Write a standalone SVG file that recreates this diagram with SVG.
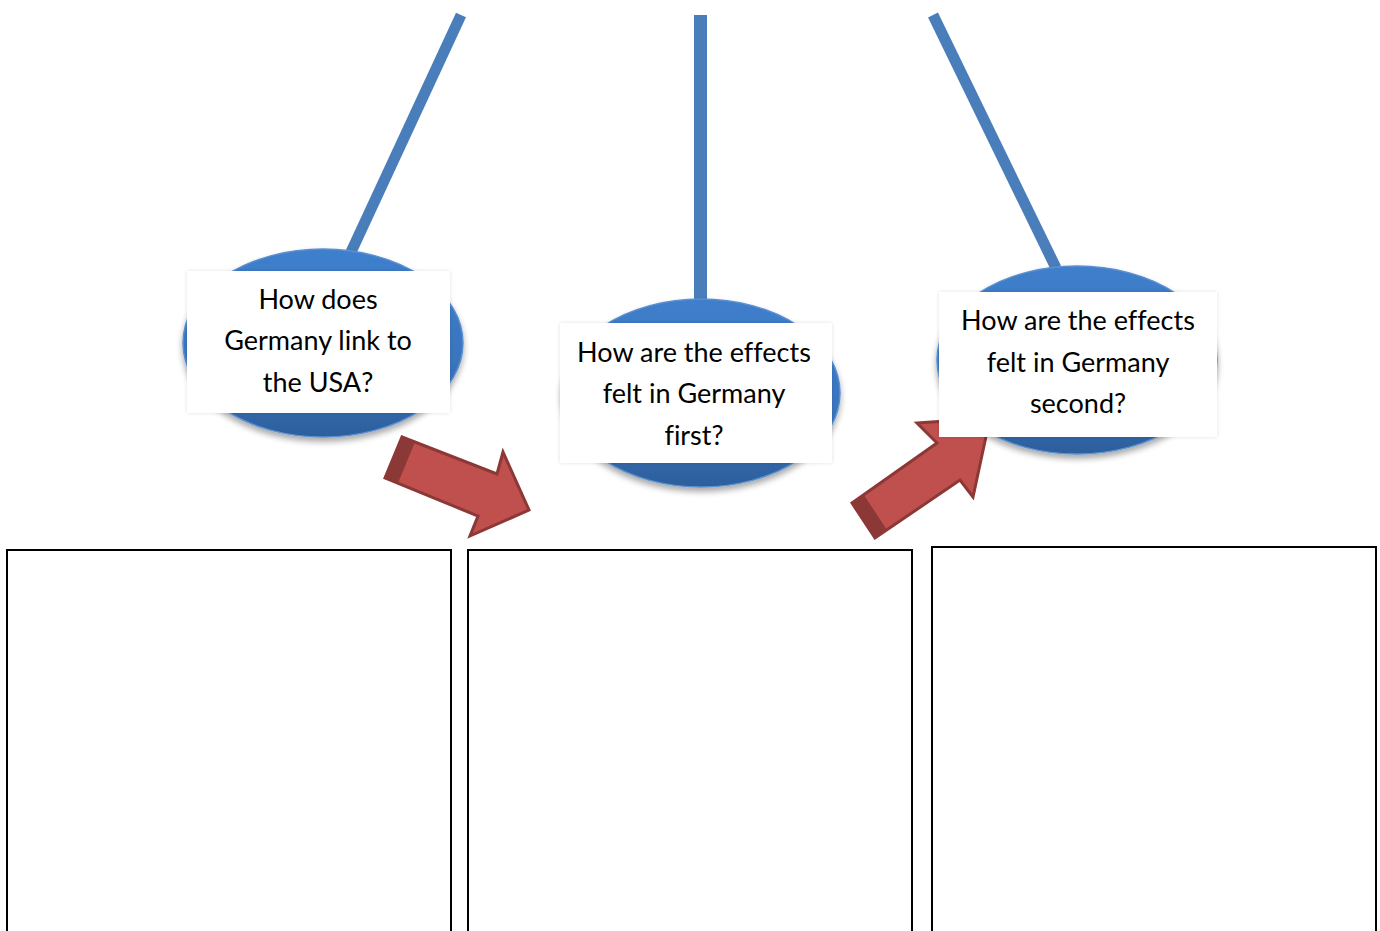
<svg xmlns="http://www.w3.org/2000/svg" width="1380" height="931" viewBox="0 0 1380 931">
<defs>
<linearGradient id="blueGrad" x1="0" y1="0" x2="0" y2="1">
<stop offset="0" stop-color="#3f7fcc"/>
<stop offset="0.6" stop-color="#3a74bd"/>
<stop offset="1" stop-color="#2d5f9c"/>
</linearGradient>
<filter id="ellShadow" x="-20%" y="-20%" width="140%" height="150%">
<feGaussianBlur in="SourceAlpha" stdDeviation="3"/>
<feOffset dx="0" dy="4" result="b"/>
<feComponentTransfer><feFuncA type="linear" slope="0.35"/></feComponentTransfer>
<feMerge><feMergeNode/><feMergeNode in="SourceGraphic"/></feMerge>
</filter>
<filter id="boxShadow" x="-10%" y="-10%" width="120%" height="120%">
<feGaussianBlur in="SourceAlpha" stdDeviation="2"/>
<feComponentTransfer><feFuncA type="linear" slope="0.12"/></feComponentTransfer>
<feMerge><feMergeNode/><feMergeNode in="SourceGraphic"/></feMerge>
</filter>
</defs>
<style>
.stick{stroke:#4a7ebb;stroke-width:11;fill:none}
.ell{fill:url(#blueGrad);stroke:#5a8fd0;stroke-width:1.5;filter:url(#ellShadow)}
.lbl{fill:#ffffff;filter:url(#boxShadow)}
.txt{font-family:Lato,"Open Sans","Liberation Sans",sans-serif;font-size:27px;fill:#000000;text-anchor:middle;font-variant-ligatures:none}
.arrow{fill:#c0504d;stroke:#8c3836;stroke-width:3;stroke-linejoin:miter}
.tail{fill:#8c3836}
.frame{fill:#ffffff;stroke:#000000;stroke-width:2}
</style>
<rect width="1380" height="931" fill="#ffffff"/>

<g id="connectors">
<line class="stick" x1="461" y1="15" x2="345" y2="265"/>
<line class="stick" x1="700.5" y1="15" x2="700.5" y2="300" style="stroke-width:13"/>
<line class="stick" x1="933" y1="15" x2="1056" y2="268"/>
</g>

<g id="node-1">
<ellipse class="ell" cx="323" cy="343" rx="140" ry="94"/>
<rect class="lbl" x="187" y="271" width="263" height="142"/>
<text class="txt" x="318" y="309">How does</text>
<text class="txt" x="318" y="350">Germany link to</text>
<text class="txt" x="318" y="392">the USA?</text>
</g>

<g id="node-2">
<ellipse class="ell" cx="701" cy="393" rx="139" ry="94"/>
<rect class="lbl" x="560" y="323" width="272" height="140"/>
<text class="txt" x="694" y="362">How are the effects</text>
<text class="txt" x="694" y="403">felt in Germany</text>
<text class="txt" x="694" y="445">first?</text>
</g>

<g id="arrows">
<polygon class="arrow" points="402,437 497,474 503,452 529,510 470,536 478,516 385,478"/>
<polygon class="tail" points="402,437 415,442 398,483 385,478"/>
<polygon class="arrow" points="852,503 937,443 917,423 990,418 973,497 960,480 875,538"/>
<polygon class="tail" points="852,503 864,495 887,530 875,538"/>
</g>

<g id="node-3">
<ellipse class="ell" cx="1077" cy="360" rx="140" ry="94"/>
<rect class="lbl" x="939" y="292" width="278" height="145"/>
<text class="txt" x="1078" y="330">How are the effects</text>
<text class="txt" x="1078" y="372">felt in Germany</text>
<text class="txt" x="1078" y="413">second?</text>
</g>

<g id="box-1"><rect class="frame" x="7" y="550" width="444" height="400"/></g>
<g id="box-2"><rect class="frame" x="468" y="550" width="444" height="400"/></g>
<g id="box-3"><rect class="frame" x="932" y="547" width="444" height="400"/></g>
</svg>
